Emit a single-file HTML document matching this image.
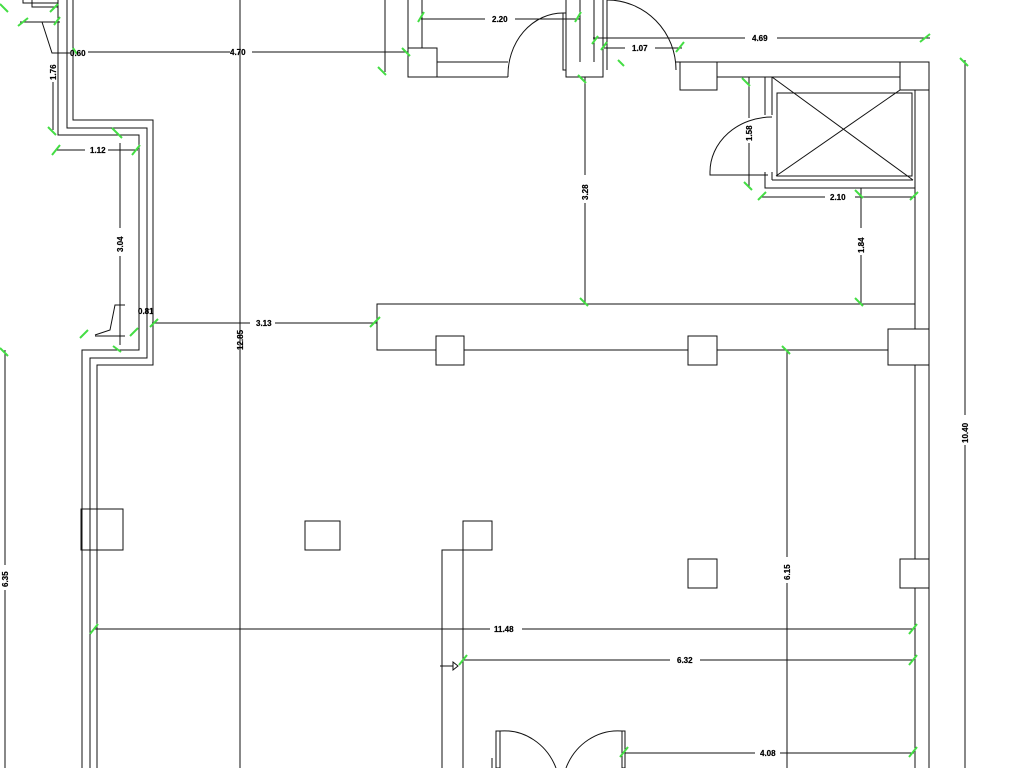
<!DOCTYPE html>
<html><head><meta charset="utf-8"><style>
html,body{margin:0;padding:0;background:#fff}
svg{display:block}
text{font-family:"Liberation Sans",sans-serif;font-weight:bold;font-size:8px;fill:#000;stroke:#000;stroke-width:0.2}
</style></head><body>
<svg width="1024" height="768" viewBox="0 0 1024 768" xmlns="http://www.w3.org/2000/svg">
<g fill="none" stroke="#111" stroke-width="1">
<!-- left walls -->
<polyline points="58,0 58,135 139,135 139,350 82,350 82,768"/>
<polyline points="67,0 67,128 147,128 147,358 90,358 90,768"/>
<polyline points="73,0 73,120 153,120 153,365 97,365 97,768"/>
<polyline points="23,0 23,3 58,3"/>
<polyline points="32,0 32,7 58,7"/>
<line x1="20" y1="22" x2="60" y2="22"/>
<polyline points="42,22 52,53 70,53"/>
<line x1="53" y1="82" x2="53" y2="130"/>
<polyline points="95,335 110,330 115,305 125,305"/>
<line x1="95" y1="336" x2="125" y2="336"/>
<rect x="81" y="509" width="42" height="41"/>
<rect x="305" y="521" width="35" height="29"/>
<!-- dimension lines -->
<line x1="240" y1="0" x2="240" y2="768"/>
<line x1="88" y1="52" x2="230" y2="52"/><line x1="252" y1="52" x2="408" y2="52"/>
<line x1="385" y1="0" x2="385" y2="72"/>
<line x1="57" y1="150" x2="85" y2="150"/><line x1="108" y1="150" x2="138" y2="150"/>
<line x1="120" y1="143" x2="120" y2="228"/><line x1="120" y1="256" x2="120" y2="345"/>
<line x1="152" y1="323" x2="250" y2="323"/><line x1="275" y1="323" x2="377" y2="323"/>
<line x1="5" y1="350" x2="5" y2="565"/><line x1="5" y1="590" x2="5" y2="768"/>
<!-- top room -->
<polyline points="408,0 408,77 508,77"/>
<polyline points="422,0 422,48"/>
<rect x="408" y="48" width="29" height="29"/>
<line x1="437" y1="62" x2="508" y2="62"/>
<path d="M508,77 A55,62 0 0 1 563,13"/>
<rect x="563" y="13" width="3" height="57"/>
<polyline points="580,0 580,62"/>
<polyline points="566,0 566,77 603,77 603,0"/>
<line x1="594" y1="0" x2="594" y2="62"/>
<line x1="607" y1="0" x2="607" y2="70"/>
<path d="M607,0 A69,70 0 0 1 676,70"/>
<line x1="676" y1="62" x2="929" y2="62"/>
<line x1="929" y1="62" x2="929" y2="768"/>
<line x1="915" y1="90" x2="915" y2="304"/>
<line x1="915" y1="350" x2="915" y2="768"/>
<rect x="680" y="62" width="37" height="28"/>
<rect x="900" y="62" width="29" height="28"/>
<line x1="717" y1="77" x2="900" y2="77"/>
<!-- elevator -->
<polyline points="765,77 765,115"/>
<polyline points="772,77 772,115"/>
<polyline points="765,172 765,188 915,188"/>
<line x1="772" y1="180" x2="913" y2="180"/>
<line x1="772" y1="172" x2="772" y2="180"/>
<rect x="777" y="93" width="135" height="83"/>
<line x1="772" y1="77" x2="913" y2="180"/>
<line x1="900" y1="90" x2="776" y2="176"/>
<path d="M772,117 A62,55 0 0 0 710,172"/>
<polyline points="710,172 710,175 768,175"/>
<!-- dims top right -->
<line x1="421" y1="19" x2="485" y2="19"/><line x1="515" y1="19" x2="580" y2="19"/>
<line x1="593" y1="38" x2="745" y2="38"/><line x1="777" y1="38" x2="930" y2="38"/>
<line x1="604" y1="48" x2="625" y2="48"/><line x1="655" y1="48" x2="682" y2="48"/>
<line x1="585" y1="77" x2="585" y2="175"/><line x1="585" y1="203" x2="585" y2="303"/>
<line x1="749" y1="77" x2="749" y2="118"/><line x1="749" y1="143" x2="749" y2="188"/>
<line x1="762" y1="197" x2="825" y2="197"/><line x1="855" y1="197" x2="915" y2="197"/>
<line x1="861" y1="188" x2="861" y2="228"/><line x1="861" y1="255" x2="861" y2="303"/>
<line x1="965" y1="60" x2="965" y2="415"/><line x1="965" y1="445" x2="965" y2="768"/>
<!-- beam -->
<rect x="377" y="304" width="538" height="46"/>
<rect x="436" y="336" width="28" height="29" fill="#fff"/>
<rect x="688" y="336" width="29" height="29" fill="#fff"/>
<rect x="888" y="329" width="41" height="36" fill="#fff"/>
<!-- lower -->
<line x1="787" y1="350" x2="787" y2="557"/><line x1="787" y1="583" x2="787" y2="768"/>
<rect x="463" y="521" width="29" height="29"/>
<polyline points="442,768 442,550 463,550 463,768"/>
<rect x="688" y="559" width="29" height="29"/>
<rect x="900" y="559" width="29" height="29" fill="#fff"/>
<line x1="95" y1="629" x2="490" y2="629"/><line x1="522" y1="629" x2="914" y2="629"/>
<line x1="463" y1="660" x2="670" y2="660"/><line x1="700" y1="660" x2="914" y2="660"/>
<line x1="440" y1="666" x2="453" y2="666"/>
<path d="M453,662 L458,666 L453,670 Z"/>
<line x1="625" y1="753" x2="755" y2="753"/><line x1="780" y1="753" x2="914" y2="753"/>
<rect x="496" y="731" width="4" height="37"/>
<path d="M500,731 A56,60 0 0 1 556,768"/>
<rect x="622" y="731" width="3" height="37"/>
<path d="M622,731 A56,60 0 0 0 566,768"/>
<line x1="492" y1="758" x2="492" y2="768"/>
</g>
<g stroke="#4d4" stroke-width="2">
<path d="M0,4l8,8 M18,26l10,-8 M50,12l8,-8 M54,25l6,-8 M73,48l4,6 M48,127l8,8 M112,128l10,10 M52,155l8,-10 M132,155l8,-10 M378,67l8,8 M402,48l8,8 M418,22l6,-10 M575,22l6,-10 M592,44l6,-8 M601,50l6,-8 M618,60l6,6 M676,52l8,-10 M920,42l10,-8 M960,58l8,8 M578,75l8,8 M742,78l8,8 M744,182l8,8 M758,200l8,-8 M910,200l8,-8 M855,190l8,8 M580,298l8,8 M855,298l8,8 M370,327l10,-10 M150,327l8,-8 M80,338l8,-8 M113,346l8,6 M130,336l8,-8 M0,348l8,8 M782,346l8,8 M90,634l8,-10 M459,665l8,-10 M909,634l8,-10 M909,665l8,-10 M620,757l8,-10 M909,757l8,-10"/>
</g>
<g>
<text x="230" y="55">4.70</text>
<text x="70" y="56">0.60</text>
<text x="90" y="153">1.12</text>
<text x="138" y="314">0.81</text>
<text x="256" y="326">3.13</text>
<text x="492" y="22">2.20</text>
<text x="752" y="41">4.69</text>
<text x="632" y="51">1.07</text>
<text x="830" y="200">2.10</text>
<text x="494" y="632">11.48</text>
<text x="677" y="663">6.32</text>
<text x="760" y="756">4.08</text>
<text transform="translate(56,80) rotate(-90)">1.76</text>
<text transform="translate(123,252) rotate(-90)">3.04</text>
<text transform="translate(243,350) rotate(-90)">12.85</text>
<text transform="translate(8,587) rotate(-90)">6.35</text>
<text transform="translate(588,200) rotate(-90)">3.28</text>
<text transform="translate(752,141) rotate(-90)">1.58</text>
<text transform="translate(864,253) rotate(-90)">1.84</text>
<text transform="translate(968,443) rotate(-90)">10.40</text>
<text transform="translate(790,580) rotate(-90)">6.15</text>
</g>
</svg>
</body></html>
